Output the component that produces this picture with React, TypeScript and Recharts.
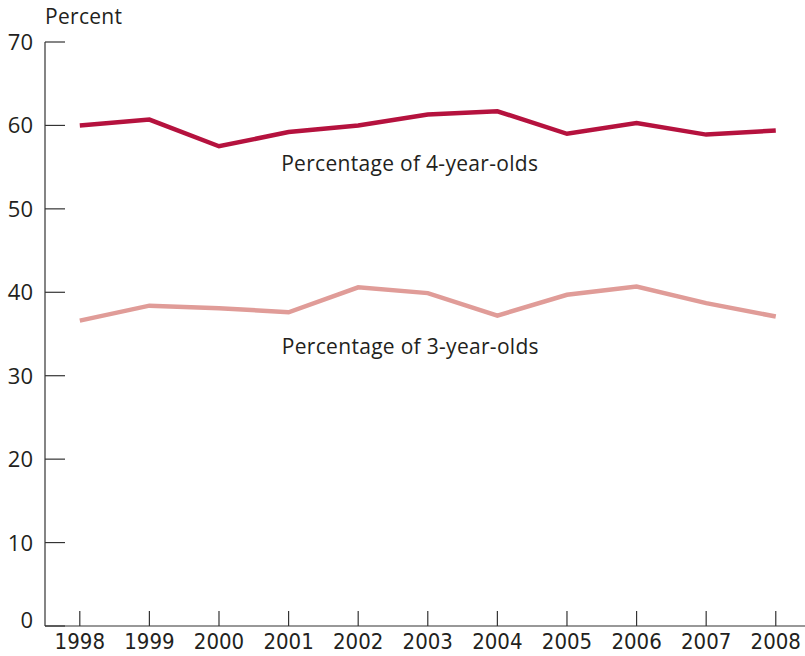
import { Line, LineChart, ReferenceDot, XAxis, YAxis } from "recharts";

const years = [1998, 1999, 2000, 2001, 2002, 2003, 2004, 2005, 2006, 2007, 2008];
const fourYearOlds = [60.0, 60.7, 57.5, 59.2, 60.0, 61.3, 61.7, 59.0, 60.3, 58.9, 59.4];
const threeYearOlds = [36.6, 38.4, 38.1, 37.6, 40.6, 39.9, 37.2, 39.7, 40.7, 38.7, 37.1];
const yTicks = [0, 10, 20, 30, 40, 50, 60, 70];

const data = years.map((year, i) => ({
  year,
  four: fourYearOlds[i],
  three: threeYearOlds[i],
}));

const AXIS = "#333333";
const TEXT = "#231f20";

function YTick({ x, y, payload }: any) {
  // tickMargin is 12, so the axis line sits 12px to the right of x
  return (
    <g>
      <line x1={x + 12} x2={x + 32} y1={y} y2={y} stroke={AXIS} strokeWidth={1.2} />
      <text
        x={x}
        y={y}
        dy={payload.value === 0 ? 2 : 8}
        textAnchor="end"
        fontSize={22}
        fontFamily="Open Sans"
        fill={TEXT}
      >
        {payload.value}
      </text>
    </g>
  );
}

function XTick({ x, y, payload }: any) {
  // axis line is tickMargin (6px) above y
  return (
    <g>
      <line x1={x} x2={x} y1={y - 6} y2={y - 21} stroke={AXIS} strokeWidth={1.2} />
      <text
        x={x}
        y={y}
        dy={17}
        textAnchor="middle"
        fontSize={22}
        fontFamily="DejaVu Sans Condensed"
        fill={TEXT}
      >
        {payload.value}
      </text>
    </g>
  );
}

const labelStyle = {
  fill: TEXT,
  fontSize: 21,
  fontFamily: "Open Sans",
  letterSpacing: 0.3,
  position: "center" as const,
};

function App() {
  return (
    <div style={{ position: "absolute", left: 0, top: 0, width: 805, height: 656 }}>
      <div
        style={{
          position: "absolute",
          left: 45,
          top: 2,
          fontFamily: "Open Sans",
          fontSize: 21,
          letterSpacing: 0.3,
          color: TEXT,
        }}
      >
        Percent
      </div>
      <LineChart
        width={805}
        height={656}
        data={data}
        margin={{ top: 42, right: 0, left: 0, bottom: 0 }}
      >
        <XAxis
          dataKey="year"
          type="number"
          domain={[1997.5, 2008.42]}
          ticks={years}
          interval={0}
          tickSize={0}
          tickMargin={6}
          height={30}
          stroke={AXIS}
          strokeWidth={1.2}
          tick={<XTick />}
        />
        <YAxis
          type="number"
          domain={[0, 70]}
          ticks={yTicks}
          interval={0}
          width={45}
          tickSize={0}
          tickMargin={12}
          stroke={AXIS}
          strokeWidth={1.2}
          tick={<YTick />}
        />
        <Line
          type="linear"
          dataKey="four"
          stroke="#b5123e"
          strokeWidth={4.5}
          dot={false}
          activeDot={false}
          isAnimationActive={false}
        />
        <Line
          type="linear"
          dataKey="three"
          stroke="#e09c98"
          strokeWidth={4.5}
          dot={false}
          activeDot={false}
          isAnimationActive={false}
        />
        <ReferenceDot
          x={2002.74}
          y={55.4}
          r={0}
          label={{ value: "Percentage of 4-year-olds", ...labelStyle }}
        />
        <ReferenceDot
          x={2002.75}
          y={33.5}
          r={0}
          label={{ value: "Percentage of 3-year-olds", ...labelStyle }}
        />
      </LineChart>
    </div>
  );
}

export default App;
